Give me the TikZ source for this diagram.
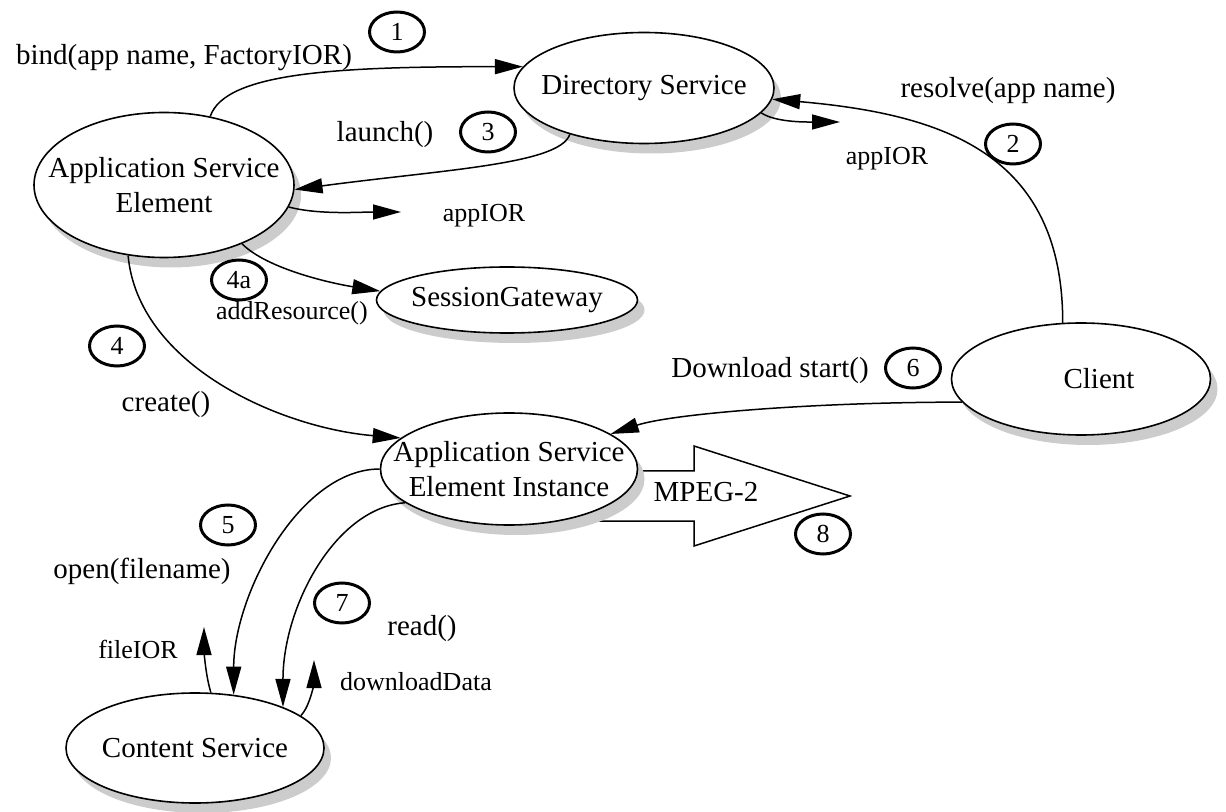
\documentclass[tikz,border=0pt]{standalone}
\usepackage{fontspec}
\setmainfont{Liberation Serif}
\usetikzlibrary{shapes.geometric, arrows.meta, shadows}

\begin{document}
\begin{tikzpicture}[x=0.5pt, y=-0.5pt,
        svc/.style={ellipse, draw, fill=white, line width=0.8pt, inner sep=0pt,
                drop shadow={shadow xshift=3.5pt, shadow yshift=-5pt, fill=black!20, opacity=1}},
        num/.style={ellipse, draw, line width=1.5pt, minimum width=27.5pt, minimum height=20pt,
                inner sep=0pt, font=\fontsize{13}{13}\selectfont},
        lbl/.style={font=\fontsize{14.5}{17.5}\selectfont, inner sep=0pt, align=center},
        sml/.style={font=\fontsize{13}{15}\selectfont, inner sep=0pt},
        flow/.style={line width=0.75pt, -{Triangle[length=14pt, width=7.5pt]}}
    ]
    \useasboundingbox (0,0) rectangle (1226,812);

    % MPEG-2 block arrow (behind the instance)
    \draw[line width=0.75pt, fill=white] (600,471) -- (694,471) -- (694,446) -- (850,496)
        -- (694,546) -- (694,521) -- (600,521) -- cycle;

    % services
    \node[svc, minimum width=130pt, minimum height=72.5pt,
        label={[lbl]center:Application Service\\Element}] (ase) at (164,185) {};
    \node[svc, minimum width=130pt, minimum height=55.5pt,
        label={[lbl]center:Directory Service}] (dir) at (644,88) {};
    \node[svc, minimum width=130.5pt, minimum height=33pt,
        label={[lbl]center:SessionGateway}] (sg) at (507,300) {};
    \node[svc, minimum width=128.5pt, minimum height=56pt,
        label={[lbl]center:Application Service\\Element Instance}] (asei) at (509,469) {};
    \node[svc, minimum width=129.5pt, minimum height=56pt,
        label={[lbl, xshift=9pt]center:Client}] (client) at (1081,379) {};
    \node[svc, minimum width=129pt, minimum height=55pt,
        label={[lbl]center:Content Service}] (cs) at (195,748) {};

    % step numbers
    \node[num] (n1) at (397,32) {1};
    \node[num] (n2) at (1013,144) {2};
    \node[num] (n3) at (488,132) {3};
    \node[num] (n4a) at (239,280) {4a};
    \node[num] (n4) at (117,346) {4};
    \node[num] (n5) at (228,525) {5};
    \node[num] (n6) at (913,368) {6};
    \node[num] (n7) at (342,603) {7};
    \node[num] (n8) at (823,534) {8};

    % messages
    \node[lbl, anchor=base] (tbind) at (184,65) {bind(app name, FactoryIOR)};
    \node[lbl, anchor=base] (tlaunch) at (385,142) {launch()};
    \node[sml, anchor=base] (tappa) at (484,222) {appIOR};
    \node[sml, anchor=base] (taddres) at (292,320) {addResource()};
    \node[lbl, anchor=base] (tcreate) at (166,412) {create()};
    \node[lbl, anchor=base] (topen) at (142,578) {open(filename)};
    \node[sml, anchor=base] (tfior) at (138,658) {fileIOR};
    \node[sml, anchor=base] (tddat) at (416,690) {downloadData};
    \node[lbl, anchor=base] (tread) at (422,635) {read()};
    \node[lbl, anchor=base] (tdown) at (770,378) {Download start()};
    \node[lbl, anchor=base] (tmpeg) at (706,502) {MPEG-2};
    \node[lbl, anchor=base] (tresolve) at (1008,98) {resolve(app name)};
    \node[sml, anchor=base] (tappd) at (887,165) {appIOR};

    % free ends of the replies
    \coordinate (appa) at (401,212);
    \coordinate (appd) at (840,122);
    \coordinate (fior) at (204,627);
    \coordinate (ddat) at (314,660);

    % calls
    \draw[flow] (ase.56) .. controls +(15,-45) and +(-180,0) .. (dir.170);
    \draw[flow] (dir.212) .. controls +(-10,30) and +(150,-20) .. (ase.-2);
    \draw[flow] (ase.-10) .. controls +(30,8) and +(-40,0) .. (appa);
    \draw[flow] (ase.-37) .. controls +(25,25) and +(-50,-8) .. (sg.176);
    \draw[flow] (ase.-117) .. controls +(10,110) and +(-120,-10) .. (asei.164);
    \draw[flow] (client.108) .. controls +(0,-170) and +(170,15) .. (dir.-5);
    \draw[flow] (dir.-12) .. controls +(15,10) and +(-30,0) .. (appd);
    \draw[flow] (client.191) .. controls +(-150,0) and +(60,-20) .. (asei.19);
    \draw[flow] (asei.180) .. controls +(-80,0) and +(0,-100) .. (cs.54);
    \draw[flow] (asei.198) .. controls +(-70,5) and +(0,-100) .. (cs.25);
    \draw[flow] (cs.74) .. controls +(-6,-20) and +(0,20) .. (fior);
    \draw[flow] (cs.17) .. controls +(10,-10) and +(0,20) .. (ddat);
\end{tikzpicture}
\end{document}
